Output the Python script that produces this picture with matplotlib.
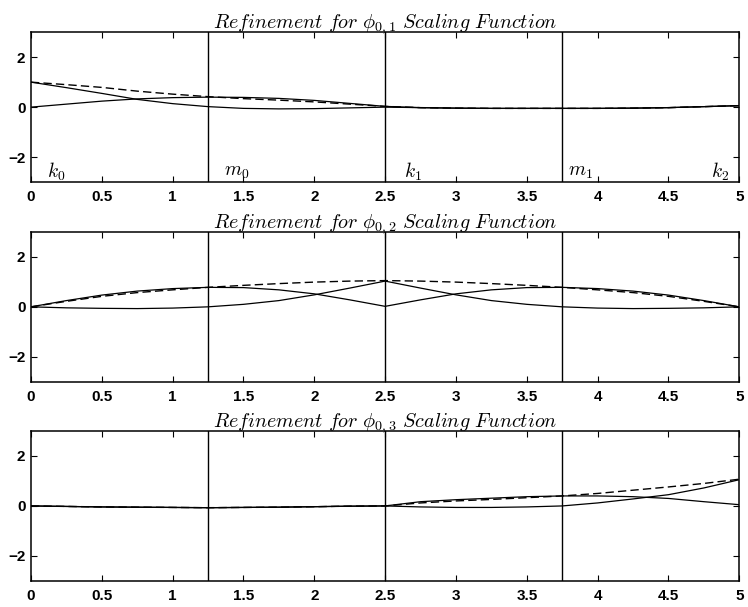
import numpy as np
import matplotlib
matplotlib.use('Agg')
import matplotlib.pyplot as plt

plt.rcParams['mathtext.fontset'] = 'cm'
plt.rcParams['font.family'] = ['Liberation Sans', 'DejaVu Sans']

# sample points along x
x = [0.0, 0.25, 0.5, 0.75, 1.0, 1.25, 1.5, 1.75, 2.0, 2.25, 2.5,
     2.75, 3.0, 3.25, 3.5, 3.75, 4.0, 4.25, 4.5, 4.75, 5.0]

# phi_{0,1}
p1_dash = [1.0, 0.9, 0.79, 0.64, 0.52, 0.42, 0.34, 0.28, 0.21, 0.12, 0.03,
           -0.02, -0.04, -0.05, -0.05, -0.05, -0.05, -0.04, -0.02, 0.02, 0.06]
p1_a = [1.0, 0.78, 0.55, 0.31, 0.14, 0.02, -0.05, -0.07, -0.06, -0.03, 0.0,
        -0.02, -0.04, -0.05, -0.05, -0.05, -0.05, -0.04, -0.02, 0.02, 0.06]
p1_b = [0.0, 0.12, 0.24, 0.33, 0.38, 0.40, 0.39, 0.35, 0.27, 0.15, 0.03,
        -0.02, -0.04, -0.05, -0.05, -0.05, -0.05, -0.04, -0.02, 0.02, 0.06]

# phi_{0,2}
p2_dash = [0.0, 0.22, 0.42, 0.57, 0.68, 0.78, 0.86, 0.93, 0.99, 1.03, 1.05,
           1.03, 0.99, 0.93, 0.86, 0.78, 0.68, 0.57, 0.42, 0.22, 0.0]
p2_a = [0.0, 0.25, 0.47, 0.63, 0.73, 0.78, 0.77, 0.68, 0.52, 0.28, 0.02,
        0.28, 0.52, 0.68, 0.77, 0.78, 0.73, 0.63, 0.47, 0.25, 0.0]
p2_b = [0.0, -0.04, -0.06, -0.07, -0.05, 0.0, 0.1, 0.25, 0.48, 0.75, 1.03,
        0.75, 0.48, 0.25, 0.1, 0.0, -0.05, -0.07, -0.06, -0.04, 0.0]

# phi_{0,3}
p3_dash = [0.0, -0.02, -0.04, -0.05, -0.06, -0.07, -0.06, -0.05, -0.03, -0.01, 0.0,
           0.12, 0.2, 0.26, 0.33, 0.4, 0.5, 0.63, 0.76, 0.9, 1.07]
p3_a = [0.0, -0.02, -0.04, -0.05, -0.06, -0.07, -0.06, -0.05, -0.03, -0.01, 0.0,
        0.17, 0.25, 0.31, 0.37, 0.4, 0.4, 0.37, 0.3, 0.17, 0.05]
p3_b = [0.0, -0.02, -0.04, -0.05, -0.06, -0.07, -0.06, -0.05, -0.03, -0.01, 0.0,
        -0.04, -0.06, -0.06, -0.04, 0.0, 0.12, 0.28, 0.45, 0.72, 1.05]

panels = [(p1_dash, p1_a, p1_b, '1'), (p2_dash, p2_a, p2_b, '2'), (p3_dash, p3_a, p3_b, '3')]
knots = [1.25, 2.5, 3.75]
knot_names = [r'$k_0$', r'$m_0$', r'$k_1$', r'$m_1$', r'$k_2$']
knot_pos = [0.11, 1.36, 2.63, 3.79, 4.8]
xticks = [0, 0.5, 1, 1.5, 2, 2.5, 3, 3.5, 4, 4.5, 5]
xticklabels = ['0', '0.5', '1', '1.5', '2', '2.5', '3', '3.5', '4', '4.5', '5']

fig = plt.figure(figsize=(7.48, 6.07), dpi=100)
bottoms = [0.700, 0.371, 0.043]
for i, (d, a, b, idx) in enumerate(panels):
    ax = fig.add_axes([0.0414, bottoms[i], 0.947, 0.247])
    ax.plot(x, d, 'k--', lw=1.0, dashes=(6, 3))
    ax.plot(x, a, 'k-', lw=0.9)
    ax.plot(x, b, 'k-', lw=0.9)
    for k in knots:
        ax.axvline(k, color='k', lw=1.0)
    ax.set_xlim(0, 5)
    ax.set_ylim(-3, 3)
    ax.set_xticks(xticks)
    ax.set_xticklabels(xticklabels, fontweight='bold')
    ax.set_yticks([-2, 0, 2])
    ax.set_yticklabels(['\u22122', '0', '2'], fontweight='bold')
    ax.tick_params(direction='in', top=True, right=True, length=4, labelsize=11)
    ax.tick_params(axis='x', pad=6)
    ax.tick_params(axis='y', pad=4)
    for s in ax.spines.values():
        s.set_linewidth(1.1)
    ax.set_title(r'$\mathit{Refinement\ for}\ \phi_{0,%s}\ \mathit{Scaling\ Function}$' % idx,
                 fontsize=14.5, pad=3)
    if i == 0:
        for name, xp in zip(knot_names, knot_pos):
            ax.text(xp, -2.6, name, fontsize=14, va='center', ha='left')

fig.savefig('out.png', dpi=100)
